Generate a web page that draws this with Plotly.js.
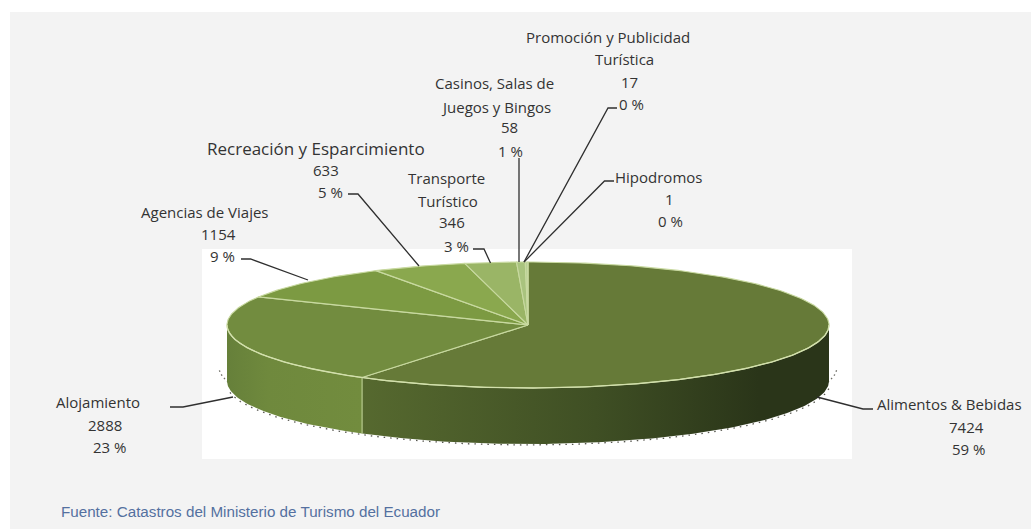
<!DOCTYPE html>
<html>
<head>
<meta charset="utf-8">
<script src="https://cdn.plot.ly/plotly-3.0.1.min.js"></script>
<style>html,body{margin:0;padding:0;background:#fff;overflow:hidden}</style>
</head>
<body>
<div id="chart" style="width:1031px;height:529px"></div>
<script>
// ---- data ----
const categories = ["Alimentos & Bebidas","Alojamiento","Agencias de Viajes","Recreación y Esparcimiento","Transporte Turístico","Casinos, Salas de Juegos y Bingos","Promoción y Publicidad Turística","Hipodromos"];
const values = [7424,2888,1154,633,346,58,17,1];
const percents = [59,23,9,5,3,1,0,0];
const sliceColors = ["#667a38","#728c3f","#7c9a42","#8aa84e","#9ab566","#a9c37e","#b8cf95","#c3d8a4"];

// ---- drawing geometry (plot coordinates equal page pixels) ----
const cx=528, cy=325, rx=301, ry=63, depth=56;
const total = values.reduce((a,b)=>a+b,0);
const px = d => cx + rx*Math.sin(d*Math.PI/180);
const py = (d,off=0) => cy + off - ry*Math.cos(d*Math.PI/180);
function arc(a,b,off=0,grow=0){
  const xs=[],ys=[],n=Math.max(2,Math.ceil(Math.abs(b-a)));
  for(let i=0;i<=n;i++){const d=a+(b-a)*i/n;
    xs.push(cx+(rx+grow)*Math.sin(d*Math.PI/180)); ys.push(py(d,off));}
  return {xs,ys};
}
const starts=[]; let acc=0;
values.forEach(v=>{starts.push(acc/total*360); acc+=v;}); starts.push(360);

const traces=[];
function line(xs,ys,color,width,dash){
  traces.push({x:xs,y:ys,mode:"lines",line:{color,width,dash:dash||"solid"},hoverinfo:"skip",showlegend:false});
}
// speckled shadow under the pie
let s=arc(96,264,depth+1,1.5); line(s.xs,s.ys,"rgba(30,30,20,0.75)",1.3,"1.5px,5px");
s=arc(93,104,depth-14,8); line(s.xs,s.ys,"rgba(30,30,20,0.65)",1.3,"1.5px,3px");
s=arc(256,267,depth-14,8); line(s.xs,s.ys,"rgba(30,30,20,0.65)",1.3,"1.5px,3px");

// side walls: visible front part of each slice
function wall(a,b,scale){
  const t=arc(a,b,0), u=arc(b,a,depth);
  traces.push({x:t.xs.concat(u.xs),y:t.ys.concat(u.ys),mode:"lines",fill:"toself",
    line:{width:0,color:"rgba(0,0,0,0)"},
    fillgradient:{type:"horizontal",colorscale:scale},
    hoverinfo:"skip",showlegend:false});
}
wall(90,starts[1],[[0,"#56692f"],[0.5,"#3f4f24"],[0.85,"#2a3519"],[1,"#2a3519"]]);
wall(starts[1],270,[[0,"#66803a"],[0.3,"#6f893d"],[1,"#728c3e"]]);
line([px(starts[1]),px(starts[1])],[py(starts[1]),py(starts[1],depth)],"#b6c98a",1.2);

// top faces
values.forEach((v,i)=>{
  const t=arc(starts[i],starts[i+1]);
  traces.push({x:[cx].concat(t.xs,[cx]),y:[cy].concat(t.ys,[cy]),mode:"lines",fill:"toself",
    fillcolor:sliceColors[i],line:{color:"#c8d9a0",width:1.1},hoverinfo:"skip",showlegend:false});
});
// pale front rim
s=arc(90,270); line(s.xs,s.ys,"#d3e0ad",1.3);

// leader lines
const leaders=[
 [[873,863,817],[409,409,397]],
 [[170,183,233],[407,407,397]],
 [[241,250.5,308],[259,259,280]],
 [[348,358,419],[194,194,266]],
 [[473,484,490.5],[249,249,263]],
 [[519,519],[158,262]],
 [[617,608,524],[108,108,262]],
 [[614,604.5,524],[181,181,262]]
];
leaders.forEach(l=>line(l[0],l[1],"#2f2f2f",1.3));

// text
const pct=i=>percents[i]+" %";
const textRows=[
 [categories[0],949,404],[String(values[0]),966,427],[pct(0),968,449],
 [categories[1],98,402],[String(values[1]),105,425],[pct(1),109,447],
 [categories[2],205,212],[String(values[2]),218,234],[pct(2),222,256],
 [categories[3],316,148,17],[String(values[3]),326,170],[pct(3),330,192],
 ["Transporte",446,178],["Turístico",448,201],[String(values[4]),452,222],[pct(4),456,246],
 ["Casinos, Salas de",494,83],["Juegos y Bingos",495.5,107],[String(values[5]),509,127],[pct(5),510,151],
 ["Promoción y Publicidad",608,37],["Turística",624,59],[String(values[6]),629,82],[pct(6),631,104],
 [categories[7],658,177],[String(values[7]),669,199],[pct(7),670,221]
];
const annotations=textRows.map(r=>({x:r[1],y:r[2],xref:"x",yref:"y",text:r[0],showarrow:false,
  xanchor:"center",yanchor:"middle",font:{family:"Open Sans, sans-serif",size:r[3]||15,color:"#333333"}}));
annotations.push({x:59,y:511,xref:"x",yref:"y",text:"Fuente: Catastros del Ministerio de Turismo del Ecuador",
  showarrow:false,xanchor:"left",yanchor:"middle",font:{family:"Liberation Sans, Arial, sans-serif",size:15.2,color:"#5470a0"}});

const hiddenAxis=r=>({range:r,visible:false,fixedrange:true,showgrid:false,zeroline:false});
Plotly.newPlot("chart",traces,{
  width:1031,height:529,margin:{l:0,r:0,t:0,b:0},
  paper_bgcolor:"#ffffff",plot_bgcolor:"rgba(0,0,0,0)",showlegend:false,
  xaxis:hiddenAxis([0,1031]),yaxis:hiddenAxis([529,0]),
  shapes:[
   {type:"rect",layer:"below",xref:"x",yref:"y",x0:10,x1:1031,y0:12,y1:529,fillcolor:"#f3f3f3",line:{width:0}},
   {type:"rect",layer:"below",xref:"x",yref:"y",x0:202,x1:852,y0:249,y1:459,fillcolor:"#ffffff",line:{width:0}}
  ],
  annotations
},{displayModeBar:false,staticPlot:true});
</script>
</body>
</html>
